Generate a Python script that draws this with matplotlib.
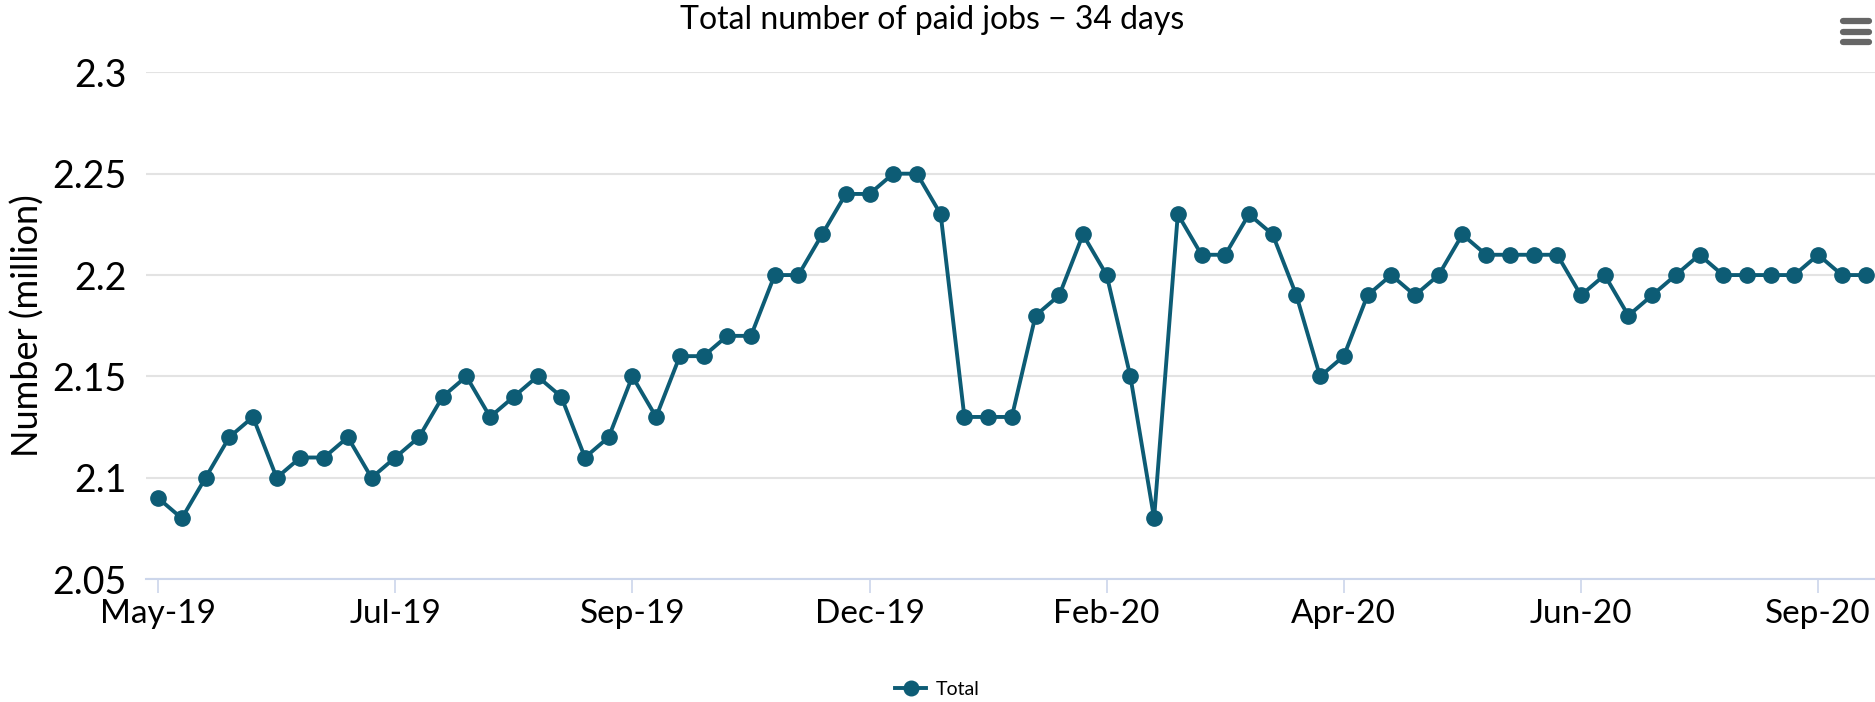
import numpy as np
import matplotlib.pyplot as plt
from matplotlib.lines import Line2D

plt.rcParams['font.family'] = ['Lato', 'DejaVu Sans']

jobs = [2.09, 2.08, 2.10, 2.12, 2.13, 2.10, 2.11, 2.11, 2.12, 2.10,
        2.11, 2.12, 2.14, 2.15, 2.13, 2.14, 2.15, 2.14, 2.11, 2.12,
        2.15, 2.13, 2.16, 2.16, 2.17, 2.17, 2.20, 2.20, 2.22, 2.24,
        2.24, 2.25, 2.25, 2.23, 2.13, 2.13, 2.13, 2.18, 2.19, 2.22,
        2.20, 2.15, 2.08, 2.23, 2.21, 2.21, 2.23, 2.22, 2.19, 2.15,
        2.16, 2.19, 2.20, 2.19, 2.20, 2.22, 2.21, 2.21, 2.21, 2.21,
        2.19, 2.20, 2.18, 2.19, 2.20, 2.21, 2.20, 2.20, 2.20, 2.20,
        2.21, 2.20, 2.20]
tick_pos = [0, 10, 20, 30, 40, 50, 60, 70]
tick_labels = ['May-19', 'Jul-19', 'Sep-19', 'Dec-19', 'Feb-20', 'Apr-20', 'Jun-20', 'Sep-20']
y_ticks = [2.05, 2.1, 2.15, 2.2, 2.25, 2.3]
y_labels = ['2.05', '2.1', '2.15', '2.2', '2.25', '2.3']

col = '#0d5c75'
x = np.arange(len(jobs))

fig = plt.figure(figsize=(18.75, 7.02), dpi=100)
ax = fig.add_axes([0.078, 0.175, 0.922, 0.722])
ax.plot(x, jobs, color=col, lw=2.8, marker='o', ms=11, zorder=3)

ax.set_xlim(-0.5, 72.4)
ax.set_ylim(2.05, 2.3)
ax.set_yticks(y_ticks)
ax.set_yticklabels(y_labels, fontsize=27)
ax.set_xticks(tick_pos)
ax.set_xticklabels(tick_labels, fontsize=24)
ax.grid(axis='y', color='#e3e3e3', lw=1.5)
ax.set_axisbelow(True)
for s in ['top', 'right', 'left']:
    ax.spines[s].set_visible(False)
ax.spines['bottom'].set_color('#ccd6eb')
ax.spines['bottom'].set_linewidth(1.5)
ax.tick_params(axis='y', length=0, pad=14)
ax.tick_params(axis='x', length=10, width=1.2, color='#ccd6eb', pad=4)
ax.set_ylabel('Number (million)', fontsize=26, labelpad=6)

fig.text(0.497, 0.972, 'Total number of paid jobs \u2212 34 days', ha='center', va='center', fontsize=23)

# legend
h = Line2D([], [], color=col, lw=2.8, marker='o', ms=10.5)
fig.legend([h], ['Total'], loc='center', bbox_to_anchor=(0.5, 0.018), frameon=False,
           fontsize=14, handlelength=1.6, handletextpad=0.5)

# menu icon
for yy in [0.97, 0.955, 0.94]:
    fig.add_artist(Line2D([0.983, 0.997], [yy, yy], color='#666666', lw=4.5, solid_capstyle='round'))

fig.savefig('out.png', dpi=100)
